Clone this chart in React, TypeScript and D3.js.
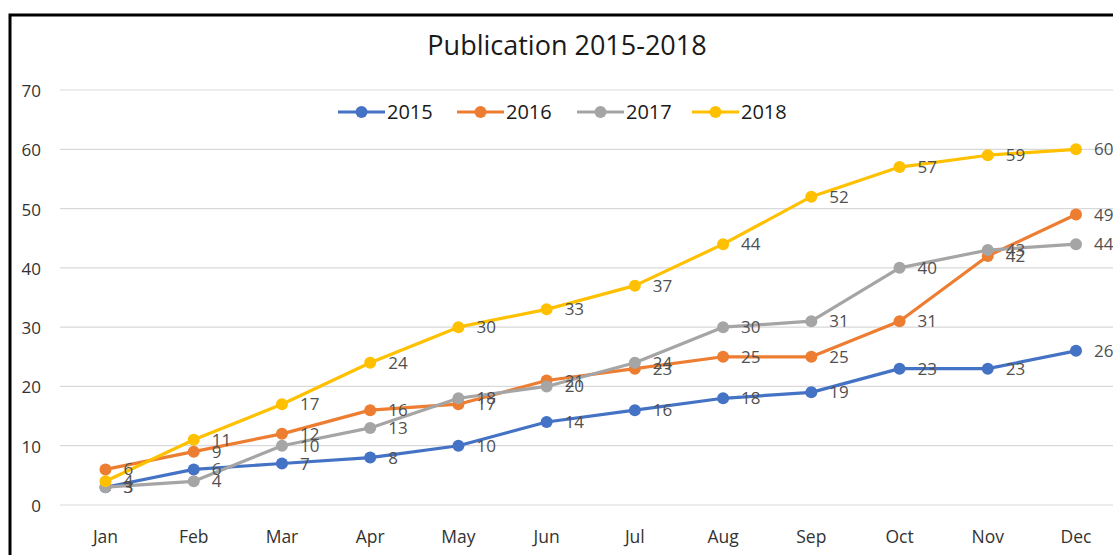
import React from "react";
import * as d3 from "d3";

const months = ["Jan", "Feb", "Mar", "Apr", "May", "Jun", "Jul", "Aug", "Sep", "Oct", "Nov", "Dec"];
const years = ["2015", "2016", "2017", "2018"];
const s2015 = [3, 6, 7, 8, 10, 14, 16, 18, 19, 23, 23, 26];
const s2016 = [6, 9, 12, 16, 17, 21, 23, 25, 25, 31, 42, 49];
const s2017 = [3, 4, 10, 13, 18, 20, 24, 30, 31, 40, 43, 44];
const s2018 = [4, 11, 17, 24, 30, 33, 37, 44, 52, 57, 59, 60];
const yTicks = [0, 10, 20, 30, 40, 50, 60, 70];
const colors = ["#4472C4", "#ED7D31", "#A5A5A5", "#FFC000"];

const W = 1113;
const H = 555;
const FONT = "'Open Sans', sans-serif";

export default function App() {
  const series = [s2015, s2016, s2017, s2018];
  const x = d3.scalePoint<string>().domain(months).range([105.5, 1076]);
  const y = d3.scaleLinear().domain([0, 70]).range([505, 90]);
  const line = d3
    .line<number>()
    .x((_, i) => x(months[i]) as number)
    .y((d) => y(d));

  const legendX = [338, 457, 577, 692];

  return (
    <div style={{ position: "absolute", left: 0, top: 0 }}>
      <svg width={W} height={H} style={{ display: "block", background: "#fff" }}>
        <rect x={10} y={15} width={1200} height={600} fill="#fff" stroke="#000" strokeWidth={3} />
        <text x={567} y={55} textAnchor="middle" fontFamily={FONT} fontSize={27} fill="#1a1a1a">
          Publication 2015-2018
        </text>
        {yTicks.map((t) => (
          <g key={t}>
            <line x1={60} x2={1113} y1={y(t)} y2={y(t)} stroke="#d9d9d9" strokeWidth={1.2} />
            <text x={41} y={y(t) + 7} textAnchor="end" fontFamily={FONT} fontSize={17} fill="#333">
              {t}
            </text>
          </g>
        ))}
        {months.map((m) => (
          <text key={m} x={x(m)} y={543} textAnchor="middle" fontFamily={FONT} fontSize={17.5} fill="#333">
            {m}
          </text>
        ))}
        {series.map((s, k) => (
          <g key={years[k]}>
            <path d={line(s) || ""} fill="none" stroke={colors[k]} strokeWidth={3.2} strokeLinejoin="round" />
            {s.map((v, i) => (
              <circle key={i} cx={x(months[i])} cy={y(v)} r={6} fill={colors[k]} />
            ))}
          </g>
        ))}
        {series.map((s, k) => (
          <g key={"l" + years[k]}>
            {s.map((v, i) => (
              <text
                key={i}
                x={(x(months[i]) as number) + 18}
                y={y(v) + 6}
                fontFamily={FONT}
                fontSize={17}
                fill="#505050"
              >
                {v}
              </text>
            ))}
          </g>
        ))}
        {years.map((yr, k) => (
          <g key={"lg" + yr}>
            <line x1={legendX[k]} x2={legendX[k] + 47} y1={112} y2={112} stroke={colors[k]} strokeWidth={3.2} />
            <circle cx={legendX[k] + 23.5} cy={112} r={6} fill={colors[k]} />
            <text x={legendX[k] + 49} y={119} fontFamily={FONT} fontSize={20} fill="#1a1a1a">
              {yr}
            </text>
          </g>
        ))}
      </svg>
    </div>
  );
}
